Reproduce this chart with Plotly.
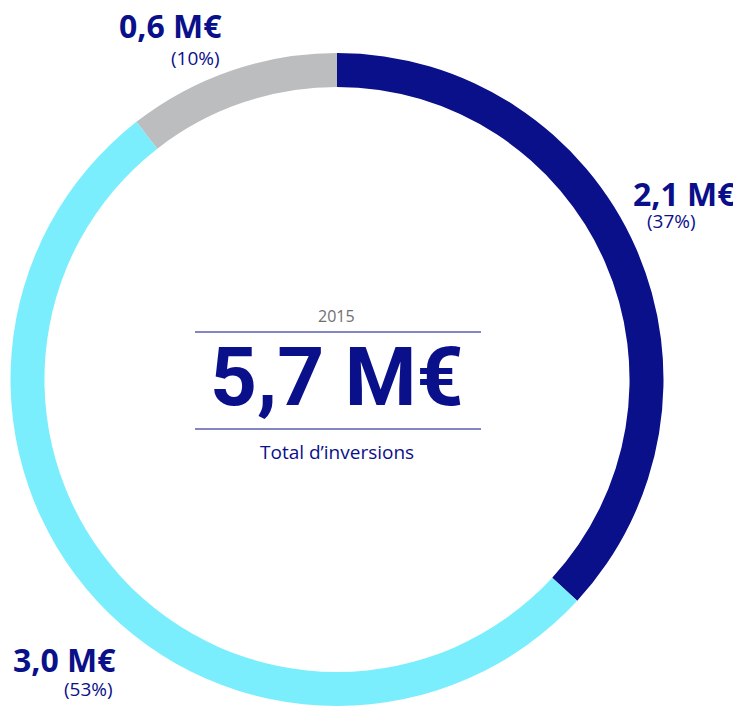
import plotly.graph_objects as go

# The page body has an 8px default margin; place everything relative to the window.
OFF = 8
W, H = 741 - OFF, 706 - OFF

labels = ["2,1 M€", "3,0 M€", "0,6 M€"]
values = [2.1, 3.0, 0.6]
percents = ["(37%)", "(53%)", "(10%)"]
colors = ["#0a0f8a", "#7aeefc", "#bcbdbf"]
year = "2015"
total = "5,7 M€"
subtitle = "Total d’inversions"

NAVY = "#0a0f8a"
FONT = "Open Sans"
BIG = "Roboto"

def px(x):
    return min(max((x - OFF) / W, 0), 1)

def py(y):
    return min(max(1 - (y - OFF) / H, 0), 1)

fig = go.Figure()
fig.add_trace(go.Pie(
    labels=labels,
    values=values,
    marker=dict(colors=colors, line=dict(width=0)),
    hole=0.896,
    sort=False,
    direction="clockwise",
    rotation=0,
    textinfo="none",
    hoverinfo="label+percent",
    showlegend=False,
    domain=dict(x=[0, px(337 + 329)], y=[0, py(53)]),
))

annos = []
# (value position, value anchor), (percent position)
label_pos = [
    ((738, 193, "right"), (671, 221)),   # 2,1
    ((64, 659, "center"), (88, 689)),    # 3,0
    ((170, 26, "center"), (195, 58)),    # 0,6
]
for lab, pct, (vp, pp) in zip(labels, percents, label_pos):
    annos.append(dict(x=px(vp[0]), y=py(vp[1]), xref="paper", yref="paper",
                      text=f"<b>{lab}</b>", showarrow=False,
                      font=dict(family=FONT, size=32, color=NAVY),
                      xanchor=vp[2], yanchor="middle"))
    annos.append(dict(x=px(pp[0]), y=py(pp[1]), xref="paper", yref="paper",
                      text=pct, showarrow=False,
                      font=dict(family=FONT, size=19, color=NAVY),
                      xanchor="center", yanchor="middle"))

annos.append(dict(x=px(336), y=py(316), xref="paper", yref="paper", text=year,
                  showarrow=False, font=dict(family=FONT, size=16, color="#707070"),
                  xanchor="center", yanchor="middle"))
annos.append(dict(x=px(337), y=py(377), xref="paper", yref="paper", text=f"<b>{total}</b>",
                  showarrow=False, font=dict(family=BIG, size=82, color=NAVY),
                  xanchor="center", yanchor="middle"))
annos.append(dict(x=px(337), y=py(452), xref="paper", yref="paper", text=subtitle,
                  showarrow=False, font=dict(family=FONT, size=19, color=NAVY),
                  xanchor="center", yanchor="middle"))

shapes = []
for yl in (332, 429):
    shapes.append(dict(type="line", xref="paper", yref="paper",
                       x0=px(195), x1=px(481), y0=py(yl), y1=py(yl),
                       line=dict(color=NAVY, width=1.2)))

fig.update_layout(
    width=W, height=H,
    margin=dict(l=0, r=0, t=0, b=0),
    paper_bgcolor="white", plot_bgcolor="white",
    annotations=annos, shapes=shapes,
)

fig.write_html("out.html")
